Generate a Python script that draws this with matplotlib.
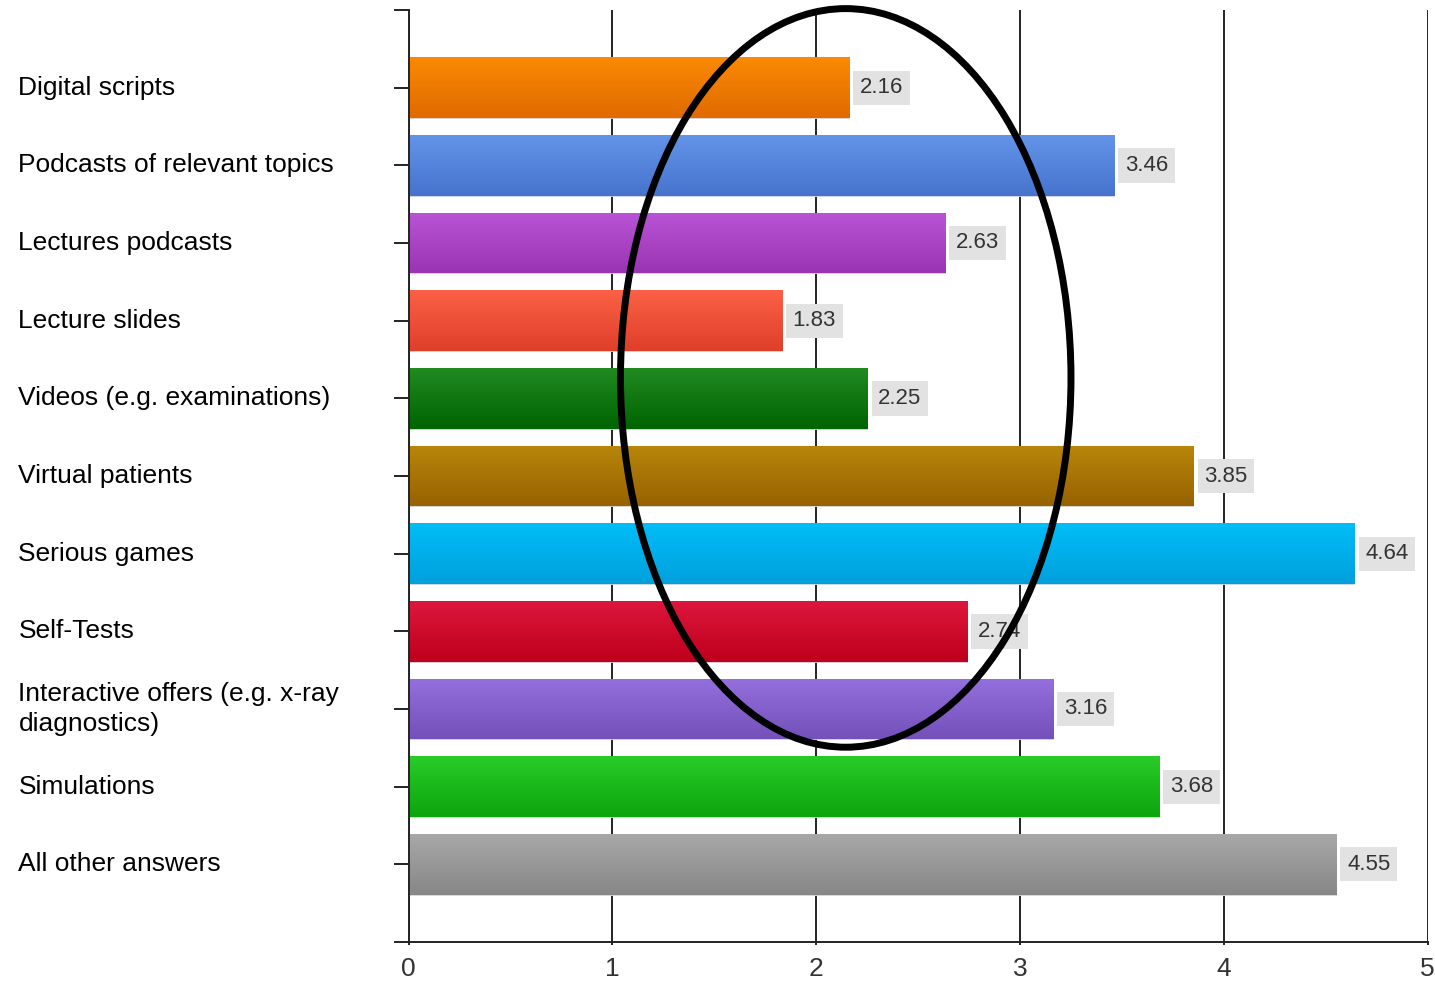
import matplotlib
matplotlib.use('Agg')
import matplotlib.pyplot as plt
import matplotlib.colors as mcolors
from matplotlib.patches import Ellipse
import numpy as np

# Data
categories = ['Digital scripts', 'Podcasts of relevant topics', 'Lectures podcasts',
              'Lecture slides', 'Videos (e.g. examinations)', 'Virtual patients',
              'Serious games', 'Self-Tests',
              'Interactive offers (e.g. x-ray\ndiagnostics)', 'Simulations',
              'All other answers']
values = [2.16, 3.46, 2.63, 1.83, 2.25, 3.85, 4.64, 2.74, 3.16, 3.68, 4.55]
value_labels = ['2.16', '3.46', '2.63', '1.83', '2.25', '3.85', '4.64', '2.74',
                '3.16', '3.68', '4.55']
x_ticks = [0, 1, 2, 3, 4, 5]

# Gradient colors (top, bottom) per bar
top_colors = ['#fb8a04', '#6493ea', '#b954d6', '#fb6147', '#218a21', '#b8860b',
              '#00bdf8', '#dd163d', '#9370dd', '#28cc28', '#a8a8a8']
bottom_colors = ['#e06a00', '#4674cc', '#9a34b4', '#df3f29', '#006400', '#976200',
                 '#00a0dc', '#be001c', '#7450ba', '#0da50d', '#878787']

LINE = '#222222'

fig = plt.figure(figsize=(14.35, 9.82), dpi=100, facecolor='white')
ax = fig.add_axes([408.5 / 1435, 40 / 982, (1427.7 - 408.5) / 1435, 932 / 982])

y = np.arange(len(categories))
bars = ax.barh(y, values, height=0.78, color=top_colors, zorder=2)

# vertical gradient on each bar
for bar, c1, c2 in zip(bars, top_colors, bottom_colors):
    x0, y0 = bar.get_x(), bar.get_y()
    w, h = bar.get_width(), bar.get_height()
    a = np.array(mcolors.to_rgb(c1))
    b = np.array(mcolors.to_rgb(c2))
    t = np.linspace(0, 1, 64)[:, None]
    grad = (a * (1 - t) + b * t)[:, None, :]
    im = ax.imshow(grad, extent=(x0, x0 + w, y0 + h, y0), aspect='auto',
                   interpolation='bicubic', zorder=2.5)
    im.set_clip_path(bar)
    bar.set_edgecolor('#d8d8e0')
    bar.set_linewidth(0.6)

# value labels
for i, (v, lab) in enumerate(zip(values, value_labels)):
    ax.annotate(lab, xy=(v, i), xytext=(8, 0), textcoords='offset points',
                ha='left', va='center', fontsize=16, color='#333333',
                family=['Liberation Sans Narrow', 'Liberation Sans'],
                bbox=dict(boxstyle='square,pad=0.3', fc='#e2e2e2', ec='none'),
                zorder=4)

# category labels on the left
for i, cat in enumerate(categories):
    ax.text(-390 / 1019.2, i, cat, transform=ax.get_yaxis_transform(),
            ha='left', va='center', fontsize=19, color='black',
            family=['Liberation Sans', 'DejaVu Sans'], linespacing=1.35,
            clip_on=False)

ax.set_xlim(0, 5)
ax.set_ylim(11, -1)
ax.set_xticks(x_ticks)
ax.set_xticklabels([str(t) for t in x_ticks], fontsize=19, color='#333333',
                   family=['Liberation Sans', 'DejaVu Sans'])
ax.set_yticks(list(range(-1, 12)))
ax.set_yticklabels([])
ax.tick_params(axis='y', length=11, width=1.4, color=LINE, direction='out')
ax.tick_params(axis='x', length=2.5, width=1.4, color=LINE, pad=8)

ax.xaxis.grid(True, color=LINE, linewidth=1.4, zorder=0)
ax.set_axisbelow(True)

for s in ['top', 'right']:
    ax.spines[s].set_visible(False)
for s in ['left', 'bottom']:
    ax.spines[s].set_color(LINE)
    ax.spines[s].set_linewidth(1.4)
    ax.spines[s].set_zorder(3)

# highlight ellipse
ell = Ellipse((2.145, 3.737), width=2.21, height=9.51, fill=False,
              edgecolor='black', linewidth=5, zorder=6, clip_on=False)
ax.add_patch(ell)

fig.savefig('out.png', dpi=100, facecolor='white')
